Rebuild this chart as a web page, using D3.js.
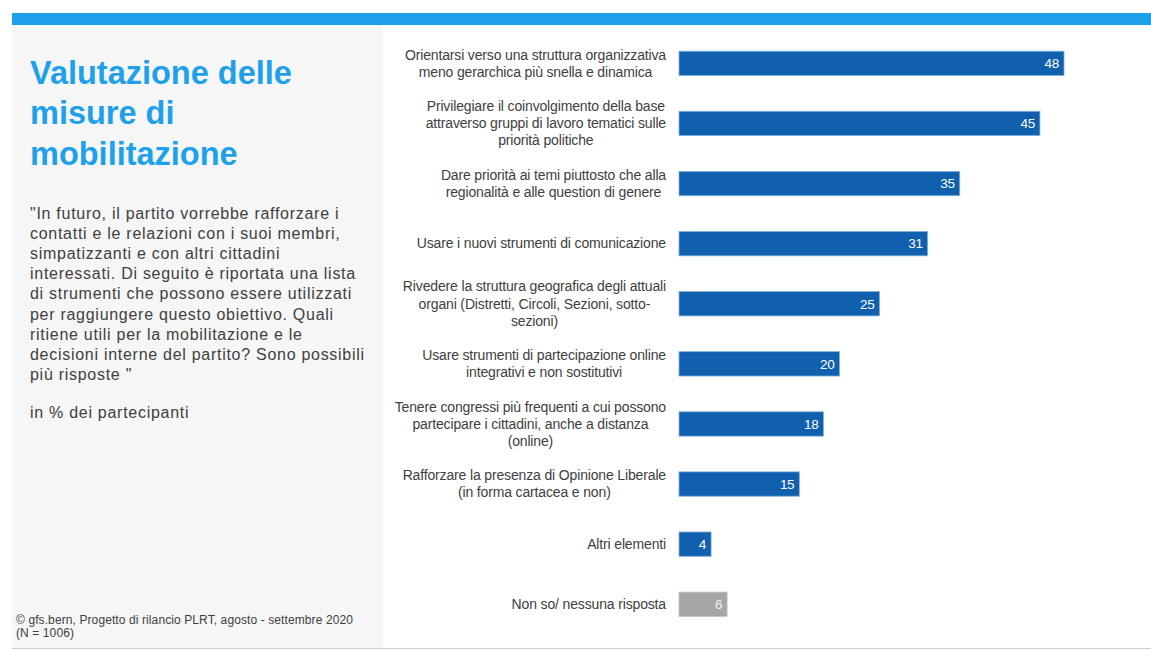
<!DOCTYPE html>
<html><head><meta charset="utf-8">
<script src="https://cdn.jsdelivr.net/npm/d3@7"></script>
<style>body{margin:0;background:#fff}svg{display:block}</style>
</head><body><svg id="c" width="1151" height="650"></svg>
<script>
const categories = [
  ["Orientarsi verso una struttura organizzativa","meno gerarchica più snella e dinamica"],
  ["Privilegiare il coinvolgimento della base","attraverso gruppi di lavoro tematici sulle","priorità politiche"],
  ["Dare priorità ai temi piuttosto che alla","regionalità e alle question di genere"],
  ["Usare i nuovi strumenti di comunicazione"],
  ["Rivedere la struttura geografica degli attuali","organi (Distretti, Circoli, Sezioni, sotto-","sezioni)"],
  ["Usare strumenti di partecipazione online","integrativi e non sostitutivi"],
  ["Tenere congressi più frequenti a cui possono","partecipare i cittadini, anche a distanza","(online)"],
  ["Rafforzare la presenza di Opinione Liberale","(in forma cartacea e non)"],
  ["Altri elementi"],
  ["Non so/ nessuna risposta"]
];
const values = [48,45,35,31,25,20,18,15,4,6];
const barColors = ["#1060ae","#1060ae","#1060ae","#1060ae","#1060ae","#1060ae","#1060ae","#1060ae","#1060ae","#a6a6a6"];
const titleLines = ["Valutazione delle","misure di","mobilitazione"];
const questionLines = [
  "\"In futuro, il partito vorrebbe rafforzare i",
  "contatti e le relazioni con i suoi membri,",
  "simpatizzanti e con altri cittadini",
  "interessati. Di seguito è riportata una lista",
  "di strumenti che possono essere utilizzati",
  "per raggiungere questo obiettivo. Quali",
  "ritiene utili per la mobilitazione e le",
  "decisioni interne del partito? Sono possibili",
  "più risposte \""
];
const unitLabel = "in % dei partecipanti";
const sourceLines = ["©  gfs.bern, Progetto di rilancio PLRT, agosto - settembre 2020","(N = 1006)"];

const svg = d3.select("#c");
const font = "'Liberation Sans', Arial, sans-serif";

// frame
svg.append("rect").attr("x",12).attr("y",25).attr("width",371).attr("height",623).attr("fill","#f6f6f6");
svg.append("rect").attr("x",12).attr("y",13).attr("width",1139).attr("height",12).attr("fill","#1ea1ea");
svg.append("line").attr("x1",12).attr("x2",1151).attr("y1",648.5).attr("y2",648.5).attr("stroke","#d0d0d0").attr("stroke-width",1);

// title
svg.append("g").selectAll("text").data(titleLines).join("text")
  .attr("x",30).attr("y",(d,i)=>83.5+i*40.5)
  .attr("font-family",font).attr("font-weight","bold").attr("font-size",32.5)
  .attr("fill","#1ea1ea").text(d=>d);

svg.append("g").selectAll("text").data(questionLines).join("text")
  .attr("x",30).attr("y",(d,i)=>218.5+i*20.2)
  .attr("font-family",font).attr("font-size",16).attr("letter-spacing","0.72px")
  .attr("fill","#404040").text(d=>d);
svg.append("text").attr("x",30).attr("y",418).attr("font-family",font).attr("font-size",16)
  .attr("letter-spacing","0.72px").attr("fill","#404040").text(unitLabel);

svg.append("g").selectAll("text").data(sourceLines).join("text")
  .attr("x",16).attr("y",(d,i)=>624+i*12.5)
  .attr("font-family",font).attr("font-size",12).attr("letter-spacing","0.1px")
  .attr("fill","#404040").text(d=>d);

// chart
const x = d3.scaleLinear().domain([0,48]).range([679,1064]);
const y = d3.scaleBand().domain(d3.range(values.length)).range([33.3,634.3]).paddingInner(0.595).paddingOuter(0.2975);

svg.append("g").selectAll("rect").data(values).join("rect")
  .attr("x",x(0)).attr("y",(d,i)=>y(i)).attr("width",d=>x(d)-x(0)).attr("height",y.bandwidth())
  .attr("fill",(d,i)=>barColors[i]).attr("stroke",(d,i)=>i===9?"#c4c4c4":"#7fb0dd").attr("stroke-width",0.8);

svg.append("g").selectAll("text").data(values).join("text")
  .attr("x",d=>x(d)-5).attr("y",(d,i)=>y(i)+y.bandwidth()/2+4.8)
  .attr("text-anchor","end").attr("font-family",font).attr("font-size",13.5)
  .attr("letter-spacing","-0.3px")
  .attr("fill",(d,i)=>i===9?"#f2f2f2":"#ffffff").text(d=>d);

const labelRight = 666, lh = 17.2;
categories.forEach((lines,i)=>{
  const g = svg.append("g");
  const cy = y(i)+y.bandwidth()/2;
  const ts = g.selectAll("text").data(lines).join("text")
    .attr("font-family",font).attr("font-size",14).attr("letter-spacing","-0.15px")
    .attr("fill","#404040").attr("text-anchor","middle")
    .attr("y",(d,k)=>cy+(k-(lines.length-1)/2)*lh+4.8).text(d=>d);
  let maxW = 0;
  ts.each(function(){maxW=Math.max(maxW,this.getComputedTextLength());});
  ts.attr("x",labelRight-maxW/2);
});
</script></body></html>
